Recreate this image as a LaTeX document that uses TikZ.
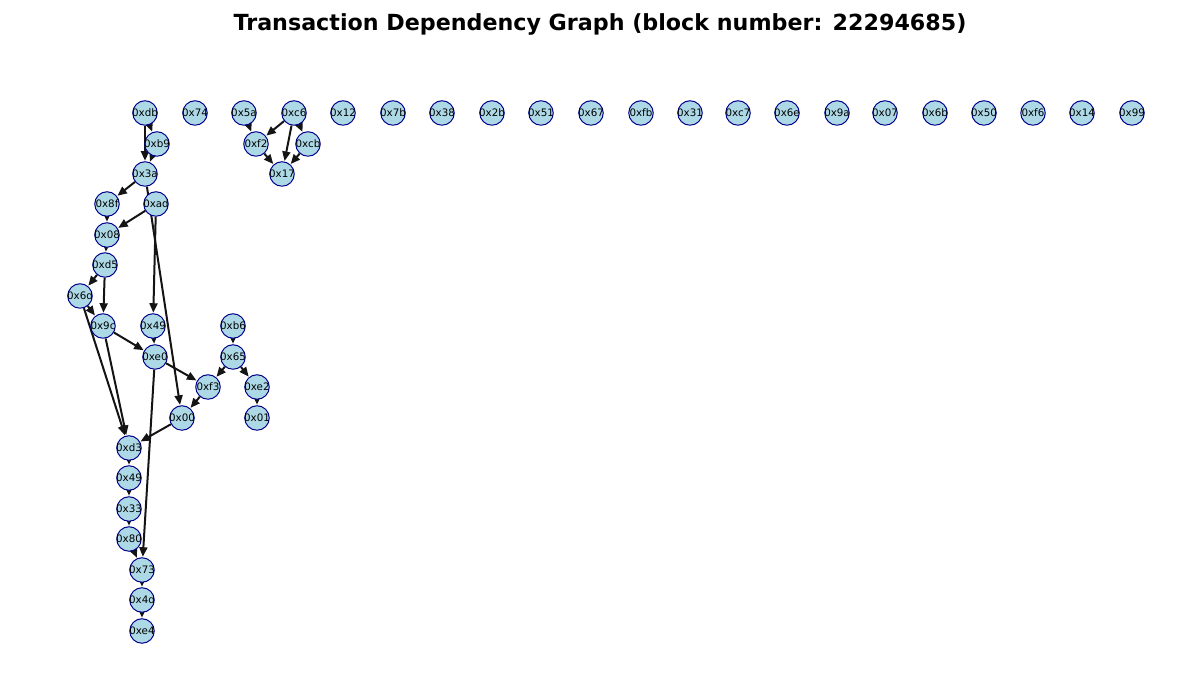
\documentclass[tikz,border=0pt]{standalone}
\usepackage{fontspec}
\newfontfamily\dejavu{DejaVu Sans}
\usetikzlibrary{arrows.meta,backgrounds}
\definecolor{nodefill}{RGB}{173,216,230}
\definecolor{nodeline}{RGB}{0,0,139}
\definecolor{edgecol}{RGB}{20,20,20}
\newcommand{\nl}[1]{\makebox[0pt]{#1}}
\tikzset{
  nd/.style={circle, minimum size=24.5pt, inner sep=0pt, fill=nodefill, draw=nodeline, line width=1pt, font=\dejavu\fontsize{10.3}{11}\selectfont},
  ed/.style={draw=edgecol, line width=2pt, -{Triangle[length=9.5pt,width=8pt]}, shorten >=0.5pt}
}
\begin{document}
\begin{tikzpicture}[x=1pt,y=1pt]
\useasboundingbox (0,0) rectangle (1200,700);
\node[font=\dejavu\bfseries\fontsize{22.2}{26}\selectfont] (title) at (600,676) {Transaction Dependency Graph (block number: 22294685)};
% top row
\node[nd] (db) at (145,587) {\nl{0xdb}};
\node[nd] (n74) at (195,587) {\nl{0x74}};
\node[nd] (n5a) at (244,587) {\nl{0x5a}};
\node[nd] (c6) at (294,587) {\nl{0xc6}};
\node[nd] (n12) at (343,587) {\nl{0x12}};
\node[nd] (n7b) at (393,587) {\nl{0x7b}};
\node[nd] (n38) at (442,587) {\nl{0x38}};
\node[nd] (n2b) at (492,587) {\nl{0x2b}};
\node[nd] (n51) at (541,587) {\nl{0x51}};
\node[nd] (n67) at (591,587) {\nl{0x67}};
\node[nd] (fb) at (641,587) {\nl{0xfb}};
\node[nd] (n31) at (690,587) {\nl{0x31}};
\node[nd] (c7) at (738,587) {\nl{0xc7}};
\node[nd] (n6e) at (787,587) {\nl{0x6e}};
\node[nd] (n9a) at (837,587) {\nl{0x9a}};
\node[nd] (n07) at (885,587) {\nl{0x07}};
\node[nd] (n6b) at (935,587) {\nl{0x6b}};
\node[nd] (n50) at (984,587) {\nl{0x50}};
\node[nd] (f6) at (1033,587) {\nl{0xf6}};
\node[nd] (n14) at (1082,587) {\nl{0x14}};
\node[nd] (n99) at (1132,587) {\nl{0x99}};
% others
\node[nd] (b9) at (157,556) {\nl{0xb9}};
\node[nd] (f2) at (256,556) {\nl{0xf2}};
\node[nd] (cb) at (308,556) {\nl{0xcb}};
\node[nd] (n3a) at (145,526) {\nl{0x3a}};
\node[nd] (n17) at (282,526) {\nl{0x17}};
\node[nd] (n8f) at (107,496) {\nl{0x8f}};
\node[nd] (ad) at (156,496) {\nl{0xad}};
\node[nd] (n08) at (107,465) {\nl{0x08}};
\node[nd] (d5) at (105,435) {\nl{0xd5}};
\node[nd] (n6d) at (80,404) {\nl{0x6d}};
\node[nd] (n9c) at (103,374) {\nl{0x9c}};
\node[nd] (n49a) at (153,374) {\nl{0x49}};
\node[nd] (b6) at (233,374) {\nl{0xb6}};
\node[nd] (e0) at (155,343) {\nl{0xe0}};
\node[nd] (n65) at (233,343) {\nl{0x65}};
\node[nd] (f3) at (208,313) {\nl{0xf3}};
\node[nd] (e2) at (257,313) {\nl{0xe2}};
\node[nd] (n00) at (182,282) {\nl{0x00}};
\node[nd] (n01) at (257,282) {\nl{0x01}};
\node[nd] (d3) at (129,252) {\nl{0xd3}};
\node[nd] (n49b) at (129,222) {\nl{0x49}};
\node[nd] (n33) at (129,191) {\nl{0x33}};
\node[nd] (n80) at (129,161) {\nl{0x80}};
\node[nd] (n73) at (142,130) {\nl{0x73}};
\node[nd] (n4d) at (142,100) {\nl{0x4d}};
\node[nd] (e4) at (142,69) {\nl{0xe4}};
\begin{pgfonlayer}{background}
\draw[ed] (db) -- (b9);
\draw[ed] (db) -- (n3a);
\draw[ed] (b9) -- (n3a);
\draw[ed] (n3a) -- (n8f);
\draw[ed] (n3a) -- (n00);
\draw[ed] (ad) -- (n08);
\draw[ed] (ad) -- (n49a);
\draw[ed] (n8f) -- (n08);
\draw[ed] (n08) -- (d5);
\draw[ed] (d5) -- (n6d);
\draw[ed] (d5) -- (n9c);
\draw[ed] (n6d) -- (n9c);
\draw[ed] (n6d) -- (d3);
\draw[ed] (n9c) -- (d3);
\draw[ed] (n9c) -- (e0);
\draw[ed] (n49a) -- (e0);
\draw[ed] (e0) -- (f3);
\draw[ed] (e0) -- (n73);
\draw[ed] (b6) -- (n65);
\draw[ed] (n65) -- (f3);
\draw[ed] (n65) -- (e2);
\draw[ed] (e2) -- (n01);
\draw[ed] (f3) -- (n00);
\draw[ed] (n00) -- (d3);
\draw[ed] (d3) -- (n49b);
\draw[ed] (n49b) -- (n33);
\draw[ed] (n33) -- (n80);
\draw[ed] (n80) -- (n73);
\draw[ed] (n73) -- (n4d);
\draw[ed] (n4d) -- (e4);
\draw[ed] (n5a) -- (f2);
\draw[ed] (c6) -- (f2);
\draw[ed] (c6) -- (n17);
\draw[ed] (c6) -- (cb);
\draw[ed] (f2) -- (n17);
\draw[ed] (cb) -- (n17);
\end{pgfonlayer}
\end{tikzpicture}
\end{document}
